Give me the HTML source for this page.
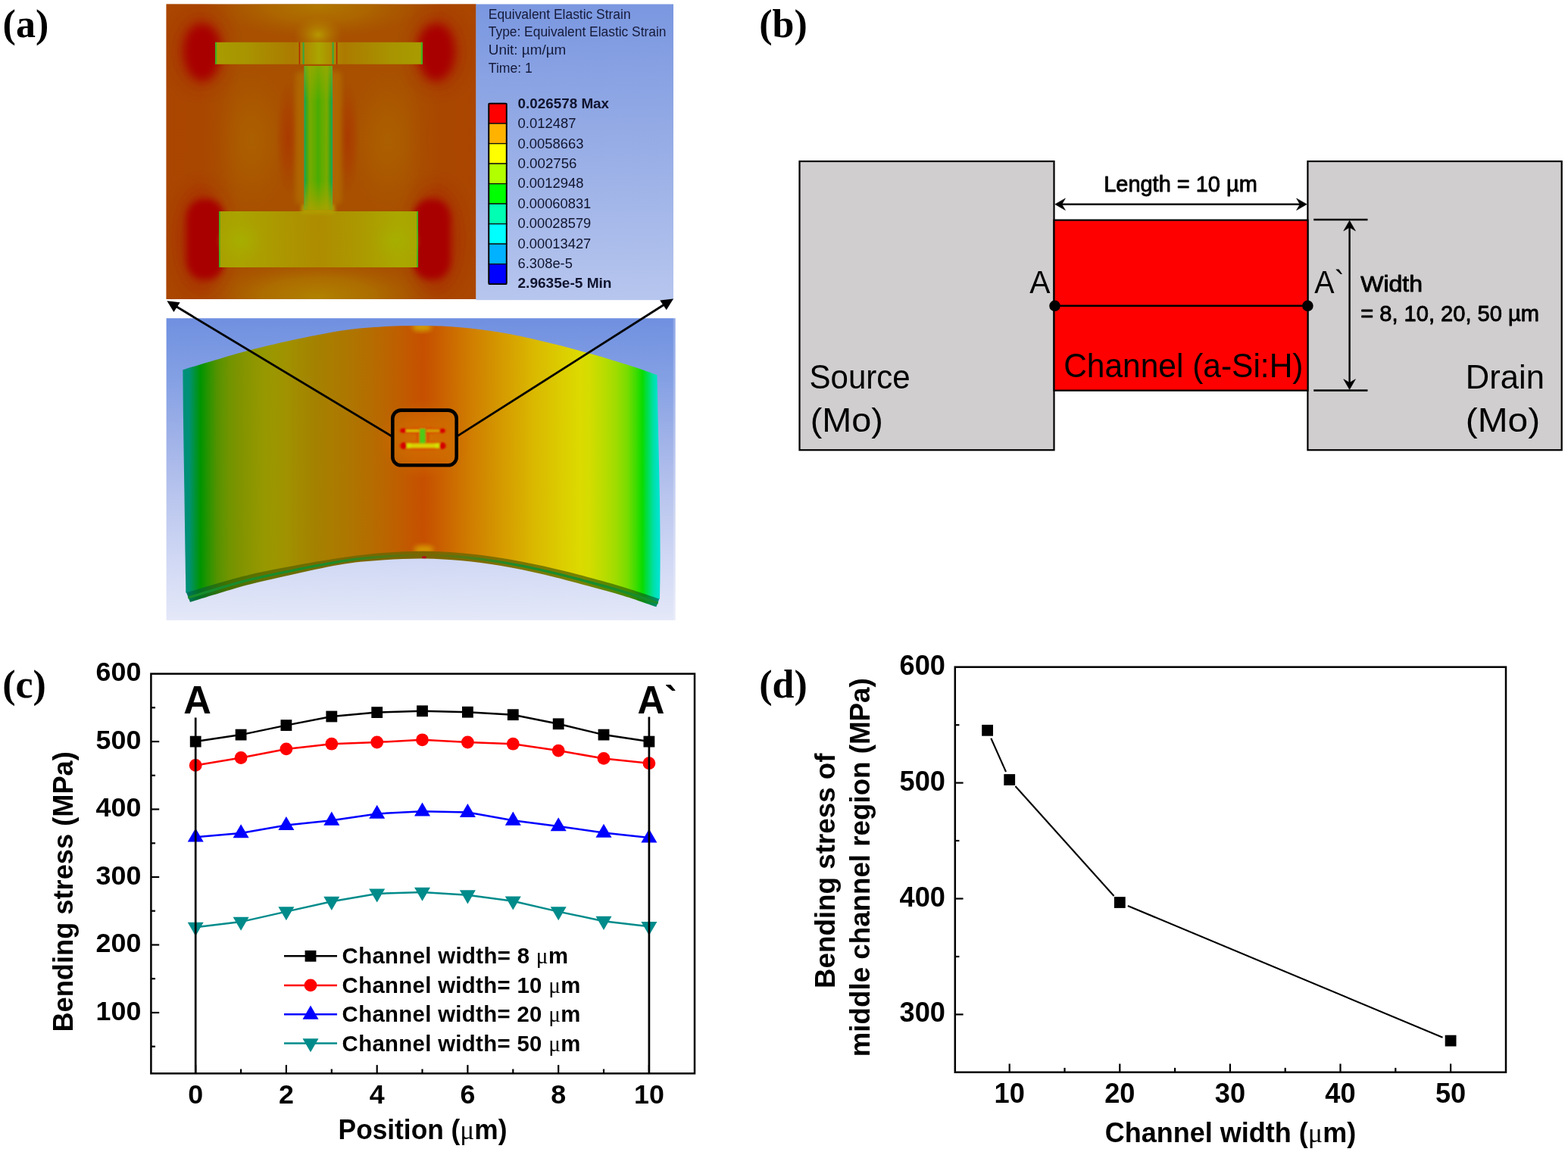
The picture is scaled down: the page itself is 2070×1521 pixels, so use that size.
<!DOCTYPE html>
<html lang="en">
<head>
<meta charset="utf-8">
<title>Figure: bending strain simulation of a-Si:H TFT channel</title>
<style>
html, body { margin: 0; padding: 0; background: #ffffff; }
body { width: 2070px; height: 1521px; overflow: hidden; }
svg { display: block; }
text { white-space: pre; }
</style>
</head>
<body>
<svg width="2070" height="1521" viewBox="0 0 2070 1521" role="img" aria-label="Bending strain simulation of an a-Si:H thin film transistor: (a) equivalent elastic strain maps, (b) channel geometry, (c) bending stress along A-A` for four channel widths, (d) mid-channel bending stress versus channel width">
<rect x="0" y="0" width="2070" height="1521" fill="#ffffff"/>
<!-- panel (a) -->
<defs>
<linearGradient id="aBgTop" x1="0" y1="0" x2="0" y2="1">
 <stop offset="0" stop-color="#7a97e0"/><stop offset="0.5" stop-color="#98aee6"/><stop offset="1" stop-color="#b7c6ee"/>
</linearGradient>
<linearGradient id="aBgBot" x1="0" y1="0" x2="0" y2="1">
 <stop offset="0" stop-color="#7090e0"/><stop offset="0.2" stop-color="#84a0e4"/><stop offset="0.4" stop-color="#a0b2e8"/>
 <stop offset="0.6" stop-color="#bac6ee"/><stop offset="0.8" stop-color="#d0d8f4"/><stop offset="1" stop-color="#e4e8f8"/>
</linearGradient>
<linearGradient id="aPlate" gradientUnits="userSpaceOnUse" x1="244" y1="0" x2="871" y2="0">
 <stop offset="0.0010" stop-color="#009078"/>
 <stop offset="0.0085" stop-color="#009078"/>
 <stop offset="0.0183" stop-color="#009246"/>
 <stop offset="0.0330" stop-color="#009400"/>
 <stop offset="0.0491" stop-color="#289400"/>
 <stop offset="0.0676" stop-color="#549200"/>
 <stop offset="0.0922" stop-color="#709400"/>
 <stop offset="0.1169" stop-color="#809400"/>
 <stop offset="0.1415" stop-color="#8c9600"/>
 <stop offset="0.1662" stop-color="#969800"/>
 <stop offset="0.1907" stop-color="#9c9600"/>
 <stop offset="0.2153" stop-color="#a09200"/>
 <stop offset="0.2400" stop-color="#a28a00"/>
 <stop offset="0.2735" stop-color="#a48200"/>
 <stop offset="0.3104" stop-color="#aa7c00"/>
 <stop offset="0.3474" stop-color="#ae7600"/>
 <stop offset="0.3844" stop-color="#b46e00"/>
 <stop offset="0.4211" stop-color="#ba6600"/>
 <stop offset="0.4577" stop-color="#c05c00"/>
 <stop offset="0.4833" stop-color="#c45400"/>
 <stop offset="0.5040" stop-color="#c65000"/>
 <stop offset="0.5279" stop-color="#c85a00"/>
 <stop offset="0.5646" stop-color="#cc6c00"/>
 <stop offset="0.6029" stop-color="#d07e00"/>
 <stop offset="0.6396" stop-color="#d28e00"/>
 <stop offset="0.6762" stop-color="#d69e00"/>
 <stop offset="0.7129" stop-color="#d8ae00"/>
 <stop offset="0.7384" stop-color="#daba00"/>
 <stop offset="0.7592" stop-color="#dac000"/>
 <stop offset="0.7959" stop-color="#dcce00"/>
 <stop offset="0.8325" stop-color="#dcda00"/>
 <stop offset="0.8517" stop-color="#d4dc00"/>
 <stop offset="0.8820" stop-color="#badc00"/>
 <stop offset="0.9075" stop-color="#a0dc00"/>
 <stop offset="0.9314" stop-color="#78dc00"/>
 <stop offset="0.9506" stop-color="#3cdc00"/>
 <stop offset="0.9633" stop-color="#0adc00"/>
 <stop offset="0.9745" stop-color="#00de50"/>
 <stop offset="0.9872" stop-color="#00e0aa"/>
 <stop offset="0.9952" stop-color="#00e2c8"/>
 <stop offset="1.0000" stop-color="#00e2cd"/>
</linearGradient>
<linearGradient id="aPlateEdge" gradientUnits="userSpaceOnUse" x1="244" y1="0" x2="871" y2="0">
 <stop offset="0.0000" stop-color="#007670"/>
 <stop offset="0.0287" stop-color="#007028"/>
 <stop offset="0.0893" stop-color="#427000"/>
 <stop offset="0.1691" stop-color="#647000"/>
 <stop offset="0.3285" stop-color="#786800"/>
 <stop offset="0.5040" stop-color="#7c6400"/>
 <stop offset="0.6475" stop-color="#806e00"/>
 <stop offset="0.8389" stop-color="#768200"/>
 <stop offset="0.9346" stop-color="#468800"/>
 <stop offset="0.9665" stop-color="#0a8814"/>
 <stop offset="1.0000" stop-color="#008c84"/>
</linearGradient>
<linearGradient id="aStripe" gradientUnits="userSpaceOnUse" x1="244" y1="0" x2="871" y2="0">
 <stop offset="0.0000" stop-color="#178c2c" stop-opacity="1"/>
 <stop offset="0.3126" stop-color="#178c2c" stop-opacity="0.95"/>
 <stop offset="0.4402" stop-color="#178c2c" stop-opacity="0.35"/>
 <stop offset="0.5040" stop-color="#178c2c" stop-opacity="0"/>
 <stop offset="0.5678" stop-color="#178c2c" stop-opacity="0.35"/>
 <stop offset="0.6954" stop-color="#178c2c" stop-opacity="0.95"/>
 <stop offset="1.0000" stop-color="#178c2c" stop-opacity="1"/>
</linearGradient>
<radialGradient id="aYel" cx="0.5" cy="0.5" r="0.5">
 <stop offset="0" stop-color="#b8a000" stop-opacity="0.9"/><stop offset="1" stop-color="#b08000" stop-opacity="0"/>
</radialGradient>
<radialGradient id="aDark" cx="0.5" cy="0.5" r="0.5">
 <stop offset="0" stop-color="#aa3a00" stop-opacity="1"/><stop offset="0.5" stop-color="#aa4000" stop-opacity="0.7"/><stop offset="1" stop-color="#a84c00" stop-opacity="0"/>
</radialGradient>
<radialGradient id="aLight" cx="0.5" cy="0.5" r="0.5">
 <stop offset="0" stop-color="#ac6000" stop-opacity="0.95"/><stop offset="0.5" stop-color="#ac5e00" stop-opacity="0.6"/><stop offset="1" stop-color="#aa5800" stop-opacity="0"/>
</radialGradient>
<radialGradient id="aLightT" cx="0.5" cy="0.5" r="0.5">
 <stop offset="0" stop-color="#b07800" stop-opacity="1"/><stop offset="0.5" stop-color="#ae6c00" stop-opacity="0.75"/><stop offset="1" stop-color="#ac6000" stop-opacity="0"/>
</radialGradient>
<radialGradient id="aLightB" cx="0.5" cy="0.5" r="0.5">
 <stop offset="0" stop-color="#b08200" stop-opacity="1"/><stop offset="0.5" stop-color="#ae7400" stop-opacity="0.8"/><stop offset="1" stop-color="#ac6000" stop-opacity="0"/>
</radialGradient>
<radialGradient id="aBoxGlow" cx="0.5" cy="0.5" r="0.5">
 <stop offset="0" stop-color="#d67400" stop-opacity="0.9"/><stop offset="0.6" stop-color="#d27000" stop-opacity="0.5"/><stop offset="1" stop-color="#cc6800" stop-opacity="0"/>
</radialGradient>
<linearGradient id="aSideL" x1="0" y1="0" x2="1" y2="0">
 <stop offset="0" stop-color="#aa4200" stop-opacity="0.75"/><stop offset="0.5" stop-color="#aa4000" stop-opacity="0.6"/><stop offset="1" stop-color="#aa4800" stop-opacity="0"/>
</linearGradient>
<linearGradient id="aSideR" x1="1" y1="0" x2="0" y2="0">
 <stop offset="0" stop-color="#aa4200" stop-opacity="0.75"/><stop offset="0.5" stop-color="#aa4000" stop-opacity="0.6"/><stop offset="1" stop-color="#aa4800" stop-opacity="0"/>
</linearGradient>
<linearGradient id="aBarTop" gradientUnits="userSpaceOnUse" x1="284" y1="0" x2="558" y2="0">
 <stop offset="0" stop-color="#a89c00"/><stop offset="0.15" stop-color="#a89400"/><stop offset="0.38" stop-color="#ac7a00"/>
 <stop offset="0.42" stop-color="#ae8400"/><stop offset="0.5" stop-color="#aaa600"/><stop offset="0.58" stop-color="#ae8400"/>
 <stop offset="0.62" stop-color="#ac7a00"/><stop offset="0.85" stop-color="#a89400"/><stop offset="1" stop-color="#a89c00"/>
</linearGradient>
<linearGradient id="aBarBot" gradientUnits="userSpaceOnUse" x1="289" y1="0" x2="552" y2="0">
 <stop offset="0" stop-color="#a8a000"/><stop offset="0.1" stop-color="#aaa400"/><stop offset="0.3" stop-color="#ac9800"/><stop offset="0.5" stop-color="#ae8c00"/>
 <stop offset="0.7" stop-color="#ac9800"/><stop offset="0.9" stop-color="#aaa800"/><stop offset="1" stop-color="#a8a400"/>
</linearGradient>
<linearGradient id="aChan" gradientUnits="userSpaceOnUse" x1="401.5" y1="0" x2="439" y2="0">
 <stop offset="0" stop-color="#10a870"/><stop offset="0.07" stop-color="#30a820"/><stop offset="0.2" stop-color="#78aa00"/>
 <stop offset="0.4" stop-color="#5cac00"/><stop offset="0.5" stop-color="#48ac04"/><stop offset="0.6" stop-color="#5cac00"/>
 <stop offset="0.8" stop-color="#78aa00"/><stop offset="0.93" stop-color="#30a820"/><stop offset="1" stop-color="#10a870"/>
</linearGradient>
<linearGradient id="aChanV" x1="0" y1="0" x2="0" y2="1">
 <stop offset="0" stop-color="#a4a800" stop-opacity="0.6"/><stop offset="0.25" stop-color="#a4a800" stop-opacity="0"/>
 <stop offset="0.8" stop-color="#a4a800" stop-opacity="0"/><stop offset="1" stop-color="#b0a000" stop-opacity="0.8"/>
</linearGradient>
<radialGradient id="aBarHi" cx="0.5" cy="0.5" r="0.5">
 <stop offset="0" stop-color="#a6b000" stop-opacity="0.9"/><stop offset="1" stop-color="#a8a800" stop-opacity="0"/>
</radialGradient>
<filter id="aBlur2" x="-20%" y="-60%" width="140%" height="220%"><feGaussianBlur stdDeviation="2"/></filter>
<filter id="aBlur1" x="-10%" y="-10%" width="120%" height="120%"><feGaussianBlur stdDeviation="0.8"/></filter>
<filter id="aBlur3" x="-30%" y="-30%" width="160%" height="160%"><feGaussianBlur stdDeviation="3"/></filter>
<filter id="aBlur5" x="-40%" y="-40%" width="180%" height="180%"><feGaussianBlur stdDeviation="4.5"/></filter>
<filter id="aBlur6" x="-40%" y="-40%" width="180%" height="180%"><feGaussianBlur stdDeviation="6"/></filter>
<filter id="aBlur10" x="-50%" y="-50%" width="200%" height="200%"><feGaussianBlur stdDeviation="10"/></filter>
<clipPath id="aClipTop"><rect x="219.6" y="5.5" width="409" height="389.4"/></clipPath>
<clipPath id="aClipBot"><rect x="219.6" y="420.2" width="672" height="398.7"/></clipPath>
<clipPath id="aClipPlate"><path d="M241.4,488.3 C248.6,486.1 269.7,479.7 284.6,475.3 C299.5,470.9 312.9,466.6 331.0,462.0 C349.1,457.4 372.3,451.9 393.0,447.5 C413.7,443.1 436.2,438.6 455.0,435.9 C473.8,433.2 489.0,432.2 506.0,431.2 C523.0,430.2 540.0,429.8 557.0,430.0 C574.0,430.2 590.8,430.7 608.0,432.2 C625.2,433.7 641.7,435.7 660.0,438.8 C678.3,441.9 698.7,446.5 718.0,451.0 C737.3,455.5 756.7,460.6 776.0,466.0 C795.3,471.4 818.8,478.6 834.0,483.4 C849.2,488.2 861.9,493.1 867.5,495.0 C867.7,505.0 868.2,529.2 868.7,555.0 C869.2,580.8 870.3,620.0 870.8,650.0 C871.3,680.0 871.6,711.5 871.6,735.0 C871.6,758.5 871.1,781.6 871.0,790.9 C863.2,788.3 839.8,780.3 824.0,775.5 C808.2,770.7 793.7,766.6 776.0,761.9 C758.3,757.2 737.3,751.8 718.0,747.5 C698.7,743.2 678.0,739.3 660.0,736.4 C642.0,733.5 626.7,731.7 610.0,730.2 C593.3,728.8 577.0,727.8 560.0,727.7 C543.0,727.6 525.5,728.4 508.0,729.8 C490.5,731.1 474.2,733.1 455.0,735.8 C435.8,738.5 413.7,742.2 393.0,746.0 C372.3,749.8 348.5,754.4 331.0,758.4 C313.5,762.4 302.3,765.9 288.0,770.0 C273.7,774.1 252.5,780.7 245.4,782.8 C245.3,774.8 244.9,757.1 244.6,735.0 C244.3,712.9 243.8,680.0 243.4,650.0 C243.0,620.0 242.3,582.0 242.0,555.0 C241.7,528.0 241.5,499.4 241.4,488.3 Z"/></clipPath>
</defs>
<g clip-path="url(#aClipTop)">
<rect x="219" y="5" width="410" height="391" fill="#a85000"/>
<ellipse cx="332" cy="185" rx="52" ry="95" fill="url(#aLight)"/>
<ellipse cx="512" cy="185" rx="52" ry="95" fill="url(#aLight)"/>
<ellipse cx="420" cy="8" rx="135" ry="42" fill="url(#aLightT)"/>
<ellipse cx="420" cy="392" rx="150" ry="50" fill="url(#aLightB)"/>
<rect x="219" y="5" width="95" height="391" fill="url(#aSideL)"/>
<rect x="534" y="5" width="95" height="391" fill="url(#aSideR)"/>
<ellipse cx="380" cy="182" rx="17" ry="82" fill="url(#aDark)"/>
<ellipse cx="459" cy="182" rx="17" ry="82" fill="url(#aDark)"/>
<rect x="390" y="94" width="61" height="176" rx="6" fill="#b27000" opacity="0.7" filter="url(#aBlur3)"/>
<ellipse cx="420" cy="46" rx="32" ry="24" fill="url(#aYel)"/>
<ellipse cx="420" cy="284" rx="30" ry="16" fill="url(#aYel)"/>
<g filter="url(#aBlur10)" opacity="0.55">
<ellipse cx="266" cy="68" rx="34" ry="48" fill="#a82000"/>
<ellipse cx="577" cy="68" rx="34" ry="48" fill="#a82000"/>
<ellipse cx="266" cy="316" rx="34" ry="70" fill="#a82000"/>
<ellipse cx="575" cy="316" rx="34" ry="70" fill="#a82000"/>
</g>
<g filter="url(#aBlur6)">
<path d="M266,32 C282,32 292,48 291,68 C290,90 280,106 268,106 C254,106 243,90 243,68 C243,48 252,32 266,32 Z" fill="#a80000"/>
<path d="M577,32 C561,32 551,48 552,68 C553,90 563,106 575,106 C589,106 600,90 600,68 C600,48 591,32 577,32 Z" fill="#a80000"/>
</g>
<g filter="url(#aBlur5)">
<rect x="246" y="263" width="50" height="106" rx="22" ry="26" fill="#a80000"/>
<rect x="545" y="263" width="50" height="106" rx="22" ry="26" fill="#a80000"/>
</g>
<rect x="284" y="55.8" width="274" height="29" fill="url(#aBarTop)"/>
<rect x="284" y="55.8" width="2.2" height="29" fill="#40b020"/>
<rect x="555.8" y="55.8" width="2.2" height="29" fill="#40b020"/>
<rect x="394.6" y="55.8" width="1.6" height="29" fill="#b02800"/>
<rect x="443.8" y="55.8" width="1.6" height="29" fill="#b02800"/>
<rect x="399.6" y="55.8" width="2" height="29" fill="#30a840"/>
<rect x="438.6" y="55.8" width="2" height="29" fill="#30a840"/>
<rect x="289" y="279" width="263" height="74" fill="url(#aBarBot)"/>
<rect x="289" y="279" width="1.8" height="74" fill="#40b020"/>
<rect x="550.2" y="279" width="1.8" height="74" fill="#40b020"/>
<ellipse cx="318" cy="318" rx="34" ry="30" fill="url(#aBarHi)"/>
<ellipse cx="523" cy="318" rx="34" ry="30" fill="url(#aBarHi)"/>
<rect x="398" y="270" width="44" height="12" fill="#b0a000" opacity="0.9" filter="url(#aBlur2)"/>
<rect x="401.5" y="87" width="37.5" height="189.5" fill="url(#aChan)"/>
<rect x="401.5" y="87" width="37.5" height="189.5" fill="url(#aChanV)"/>
</g>
<rect x="628.3" y="5.5" width="260.7" height="390.7" fill="url(#aBgTop)"/>
<g font-family="'Liberation Sans', 'DejaVu Sans', sans-serif" font-size="18" fill="#151a3a">
<text x="644.8" y="24.9" textLength="187.8" lengthAdjust="spacingAndGlyphs">Equivalent Elastic Strain</text>
<text x="644.8" y="48.3" textLength="234.7" lengthAdjust="spacingAndGlyphs">Type: Equivalent Elastic Strain</text>
<text x="644.8" y="71.8" textLength="102.5" lengthAdjust="spacingAndGlyphs">Unit: µm/µm</text>
<text x="644.8" y="95.5" textLength="58" lengthAdjust="spacingAndGlyphs">Time: 1</text>
</g>
<rect x="645.3" y="136.60" width="23.4" height="26.5" fill="#ff0000" stroke="#101010" stroke-width="1.3"/>
<rect x="645.3" y="163.10" width="23.4" height="26.5" fill="#ffb200" stroke="#101010" stroke-width="1.3"/>
<rect x="645.3" y="189.60" width="23.4" height="26.5" fill="#ffff00" stroke="#101010" stroke-width="1.3"/>
<rect x="645.3" y="216.10" width="23.4" height="26.5" fill="#b2ff00" stroke="#101010" stroke-width="1.3"/>
<rect x="645.3" y="242.60" width="23.4" height="26.5" fill="#00ff00" stroke="#101010" stroke-width="1.3"/>
<rect x="645.3" y="269.10" width="23.4" height="26.5" fill="#00ffb2" stroke="#101010" stroke-width="1.3"/>
<rect x="645.3" y="295.60" width="23.4" height="26.5" fill="#00ffff" stroke="#101010" stroke-width="1.3"/>
<rect x="645.3" y="322.10" width="23.4" height="26.5" fill="#00b2ff" stroke="#101010" stroke-width="1.3"/>
<rect x="645.3" y="348.60" width="23.4" height="26.5" fill="#0000ff" stroke="#101010" stroke-width="1.3"/>
<rect x="645.3" y="136.6" width="23.4" height="238.50" fill="none" stroke="#000" stroke-width="1.8" rx="1.5"/>
<g font-family="'Liberation Sans', 'DejaVu Sans', sans-serif" font-size="18" fill="#10142e">
<text x="683.5" y="142.8" textLength="120.6" lengthAdjust="spacingAndGlyphs" font-weight="bold">0.026578 Max</text>
<text x="683.5" y="169.2" textLength="77.0" lengthAdjust="spacingAndGlyphs">0.012487</text>
<text x="683.5" y="195.6" textLength="87.0" lengthAdjust="spacingAndGlyphs">0.0058663</text>
<text x="683.5" y="222.0" textLength="78.0" lengthAdjust="spacingAndGlyphs">0.002756</text>
<text x="683.5" y="248.4" textLength="87.0" lengthAdjust="spacingAndGlyphs">0.0012948</text>
<text x="683.5" y="274.8" textLength="96.8" lengthAdjust="spacingAndGlyphs">0.00060831</text>
<text x="683.5" y="301.2" textLength="96.8" lengthAdjust="spacingAndGlyphs">0.00028579</text>
<text x="683.5" y="327.6" textLength="96.8" lengthAdjust="spacingAndGlyphs">0.00013427</text>
<text x="683.5" y="354.0" textLength="72.4" lengthAdjust="spacingAndGlyphs">6.308e-5</text>
<text x="683.5" y="380.4" textLength="124.0" lengthAdjust="spacingAndGlyphs" font-weight="bold">2.9635e-5 Min</text>
</g>
<rect x="219.6" y="420.2" width="672" height="398.7" fill="url(#aBgBot)"/>
<rect x="888.8" y="420.2" width="2.8" height="398.7" fill="#ffffff" opacity="0.22"/>
<g clip-path="url(#aClipBot)">
<path d="M245.4,780.8 L251,795 C257.5,793.0 276.7,787.0 290.0,783.0 C303.3,779.0 313.8,775.5 331.0,771.2 C348.2,766.9 372.3,761.5 393.0,757.0 C413.7,752.5 435.8,747.5 455.0,744.5 C474.2,741.5 490.5,740.5 508.0,739.3 C525.5,738.1 543.0,737.3 560.0,737.5 C577.0,737.7 593.3,738.8 610.0,740.3 C626.7,741.8 642.0,743.8 660.0,746.8 C678.0,749.8 698.7,754.0 718.0,758.5 C737.3,763.0 758.3,768.8 776.0,773.5 C793.7,778.2 808.9,782.4 824.0,787.0 C839.1,791.6 859.3,798.9 866.4,801.3 L871,788.9 C863.2,786.3 839.8,778.3 824.0,773.5 C808.2,768.7 793.7,764.6 776.0,759.9 C758.3,755.2 737.3,749.8 718.0,745.5 C698.7,741.2 678.0,737.3 660.0,734.4 C642.0,731.5 626.7,729.7 610.0,728.2 C593.3,726.8 577.0,725.8 560.0,725.7 C543.0,725.6 525.5,726.4 508.0,727.8 C490.5,729.1 474.2,731.1 455.0,733.8 C435.8,736.5 413.7,740.2 393.0,744.0 C372.3,747.8 348.5,752.4 331.0,756.4 C313.5,760.4 302.3,763.9 288.0,768.0 C273.7,772.1 252.5,778.7 245.4,780.8 Z" fill="url(#aPlateEdge)"/>
<path d="M248.2,789.2 C255.0,787.1 275.2,780.8 289.0,776.8 C302.8,772.8 313.7,769.3 331.0,765.1 C348.3,760.9 372.3,755.9 393.0,751.8 C413.7,747.7 435.8,743.3 455.0,740.4 C474.2,737.6 490.5,736.1 508.0,734.8 C525.5,733.6 543.0,732.8 560.0,732.9 C577.0,733.0 593.3,734.0 610.0,735.5 C626.7,737.0 642.0,738.9 660.0,741.9 C678.0,744.9 698.7,748.9 718.0,753.3 C737.3,757.6 758.3,763.3 776.0,768.0 C793.7,772.7 808.5,776.8 824.0,781.5 C839.5,786.3 861.2,793.9 868.7,796.4" fill="none" stroke="url(#aStripe)" stroke-width="3.4"/>
<ellipse cx="560" cy="735.8" rx="3" ry="1.5" fill="#b40020"/>
<path d="M241.4,488.3 C248.6,486.1 269.7,479.7 284.6,475.3 C299.5,470.9 312.9,466.6 331.0,462.0 C349.1,457.4 372.3,451.9 393.0,447.5 C413.7,443.1 436.2,438.6 455.0,435.9 C473.8,433.2 489.0,432.2 506.0,431.2 C523.0,430.2 540.0,429.8 557.0,430.0 C574.0,430.2 590.8,430.7 608.0,432.2 C625.2,433.7 641.7,435.7 660.0,438.8 C678.3,441.9 698.7,446.5 718.0,451.0 C737.3,455.5 756.7,460.6 776.0,466.0 C795.3,471.4 818.8,478.6 834.0,483.4 C849.2,488.2 861.9,493.1 867.5,495.0 C867.7,505.0 868.2,529.2 868.7,555.0 C869.2,580.8 870.3,620.0 870.8,650.0 C871.3,680.0 871.6,711.5 871.6,735.0 C871.6,758.5 871.1,781.6 871.0,790.9 C863.2,788.3 839.8,780.3 824.0,775.5 C808.2,770.7 793.7,766.6 776.0,761.9 C758.3,757.2 737.3,751.8 718.0,747.5 C698.7,743.2 678.0,739.3 660.0,736.4 C642.0,733.5 626.7,731.7 610.0,730.2 C593.3,728.8 577.0,727.8 560.0,727.7 C543.0,727.6 525.5,728.4 508.0,729.8 C490.5,731.1 474.2,733.1 455.0,735.8 C435.8,738.5 413.7,742.2 393.0,746.0 C372.3,749.8 348.5,754.4 331.0,758.4 C313.5,762.4 302.3,765.9 288.0,770.0 C273.7,774.1 252.5,780.7 245.4,782.8 C245.3,774.8 244.9,757.1 244.6,735.0 C244.3,712.9 243.8,680.0 243.4,650.0 C243.0,620.0 242.3,582.0 242.0,555.0 C241.7,528.0 241.5,499.4 241.4,488.3 Z" fill="url(#aPlate)"/>
<g clip-path="url(#aClipPlate)">
<ellipse cx="557" cy="432" rx="13" ry="5.5" fill="#d8c800" opacity="0.65" filter="url(#aBlur3)"/>
<ellipse cx="559.5" cy="725.5" rx="13" ry="5.5" fill="#e0c000" opacity="0.65" filter="url(#aBlur3)"/>
<ellipse cx="560" cy="580" rx="62" ry="52" fill="url(#aBoxGlow)"/>
<g filter="url(#aBlur1)">
<ellipse cx="558" cy="568.6" rx="31" ry="4.6" fill="#e03800" opacity="0.45"/>
<ellipse cx="558" cy="588.6" rx="32" ry="6" fill="#e03800" opacity="0.45"/>
<ellipse cx="551.2" cy="577.5" rx="1.9" ry="7" fill="#d84800" opacity="0.7"/>
<ellipse cx="564.8" cy="577.5" rx="2.2" ry="7" fill="#d84800" opacity="0.7"/>
<rect x="535.5" y="567.4" width="18" height="2.6" fill="#d6d400"/>
<rect x="563" y="567.4" width="18" height="2.6" fill="#d0c000" opacity="0.85"/>
<rect x="536.5" y="585.4" width="44" height="6" fill="#d8d000"/>
<rect x="536.5" y="585.4" width="6" height="6" fill="#d0e400"/>
<rect x="574.5" y="585.4" width="6" height="6" fill="#d0e400"/>
<rect x="554" y="566" width="7.6" height="19.4" fill="#4ecc18"/>
<ellipse cx="532.2" cy="568.6" rx="3.9" ry="3" fill="#d80400"/>
<ellipse cx="584" cy="568.8" rx="3.9" ry="3" fill="#d80400"/>
<ellipse cx="532.8" cy="588.6" rx="4.3" ry="4.5" fill="#d40000"/>
<ellipse cx="584.2" cy="588.6" rx="4.3" ry="4.5" fill="#d40000"/>
</g>
</g>
</g>
<rect x="518.3" y="541.6" width="84.4" height="72.7" rx="11" ry="11" fill="none" stroke="#000" stroke-width="4.6"/>
<g stroke="#000" stroke-width="2.8" fill="#000">
<line x1="517.5" y1="576.2" x2="232" y2="404.3"/>
<path d="M220.4,397.2 L237.7,399.2 L229.4,411.9 Z" stroke="none"/>
<line x1="603.6" y1="575.9" x2="877" y2="402"/>
<path d="M889,394.6 L871.2,396.6 L879.8,409.3 Z" stroke="none"/>
</g>
<!-- panel (b) -->
<g>
<rect x="1055.5" y="213" width="336" height="381.2" fill="#d0cece" stroke="#000" stroke-width="2.2"/>
<rect x="1726.4" y="213" width="335.3" height="381.2" fill="#d0cece" stroke="#000" stroke-width="2.2"/>
<rect x="1391.5" y="290.6" width="335" height="225" fill="#ff0000" stroke="#000" stroke-width="2.2"/>
<g stroke="#000" stroke-width="2.4" fill="none">
<line x1="1400" y1="269.7" x2="1718" y2="269.7"/>
<line x1="1734.2" y1="290" x2="1805.5" y2="290"/>
<line x1="1734.2" y1="515.5" x2="1805.5" y2="515.5"/>
<line x1="1781.6" y1="299" x2="1781.6" y2="506"/>
<line x1="1392" y1="403.7" x2="1726" y2="403.7" stroke-width="2.4"/>
</g>
<path d="M1392.8,269.7 L1406.4,261.9 L1401.8,269.7 L1406.4,277.5 Z" fill="#000" stroke="#000" stroke-width="0.6" stroke-linejoin="miter"/>
<path d="M1725.2,269.7 L1711.6,277.5 L1716.2,269.7 L1711.6,261.9 Z" fill="#000" stroke="#000" stroke-width="0.6" stroke-linejoin="miter"/>
<path d="M1781.6,291.2 L1789.4,304.8 L1781.6,300.2 L1773.8,304.8 Z" fill="#000" stroke="#000" stroke-width="0.6" stroke-linejoin="miter"/>
<path d="M1781.6,514.3 L1773.8,500.7 L1781.6,505.3 L1789.4,500.7 Z" fill="#000" stroke="#000" stroke-width="0.6" stroke-linejoin="miter"/>
<circle cx="1392.5" cy="403.8" r="7.3" fill="#000"/>
<circle cx="1726.4" cy="403.8" r="7.3" fill="#000"/>
<g font-family="'Liberation Sans', 'DejaVu Sans', sans-serif" fill="#000">
<text x="1457.2" y="252.6" font-size="29" textLength="202.6" lengthAdjust="spacingAndGlyphs" stroke="#000" stroke-width="0.85" stroke-linejoin="round">Length = 10 µm</text>
<text x="1359.2" y="386.7" font-size="42.5" textLength="27.2" lengthAdjust="spacingAndGlyphs">A</text>
<text x="1735.2" y="386.7" font-size="42.5" textLength="39.4" lengthAdjust="spacingAndGlyphs">A`</text>
<text x="1404.2" y="498" font-size="43.5" textLength="316.3" lengthAdjust="spacingAndGlyphs">Channel (a-Si:H)</text>
<text x="1068.5" y="512.8" font-size="43.5" textLength="133.1" lengthAdjust="spacingAndGlyphs">Source</text>
<text x="1069.8" y="570" font-size="43.5" textLength="96.1" lengthAdjust="spacingAndGlyphs">(Mo)</text>
<text x="1934.8" y="513.2" font-size="43.5" textLength="104.1" lengthAdjust="spacingAndGlyphs">Drain</text>
<text x="1934.8" y="570.4" font-size="43.5" textLength="98.4" lengthAdjust="spacingAndGlyphs">(Mo)</text>
<text x="1796.2" y="384.5" font-size="29" textLength="81.8" lengthAdjust="spacingAndGlyphs" stroke="#000" stroke-width="0.85" stroke-linejoin="round">Width</text>
<text x="1796.2" y="423.7" font-size="29" textLength="235.8" lengthAdjust="spacingAndGlyphs" stroke="#000" stroke-width="0.85" stroke-linejoin="round">= 8, 10, 20, 50 µm</text>
</g>
</g>
<!-- panel (c) -->
<g>
<rect x="199.4" y="889.6" width="717.6" height="527.7" fill="none" stroke="#000" stroke-width="2.5"/>
<g stroke="#000" stroke-width="2.2">
<line x1="199.4" y1="1337.0" x2="210.2" y2="1337.0"/>
<line x1="199.4" y1="1247.5" x2="210.2" y2="1247.5"/>
<line x1="199.4" y1="1158.0" x2="210.2" y2="1158.0"/>
<line x1="199.4" y1="1068.5" x2="210.2" y2="1068.5"/>
<line x1="199.4" y1="979.1" x2="210.2" y2="979.1"/>
<line x1="199.4" y1="1381.7" x2="205.0" y2="1381.7"/>
<line x1="199.4" y1="1292.2" x2="205.0" y2="1292.2"/>
<line x1="199.4" y1="1202.7" x2="205.0" y2="1202.7"/>
<line x1="199.4" y1="1113.3" x2="205.0" y2="1113.3"/>
<line x1="199.4" y1="1023.8" x2="205.0" y2="1023.8"/>
<line x1="199.4" y1="934.3" x2="205.0" y2="934.3"/>
<line x1="258.2" y1="1417.3" x2="258.2" y2="1406.1"/>
<line x1="377.9" y1="1417.3" x2="377.9" y2="1406.1"/>
<line x1="497.7" y1="1417.3" x2="497.7" y2="1406.1"/>
<line x1="617.4" y1="1417.3" x2="617.4" y2="1406.1"/>
<line x1="737.2" y1="1417.3" x2="737.2" y2="1406.1"/>
<line x1="856.9" y1="1417.3" x2="856.9" y2="1406.1"/>
<line x1="318.1" y1="1417.3" x2="318.1" y2="1411.5"/>
<line x1="437.8" y1="1417.3" x2="437.8" y2="1411.5"/>
<line x1="557.5" y1="1417.3" x2="557.5" y2="1411.5"/>
<line x1="677.3" y1="1417.3" x2="677.3" y2="1411.5"/>
<line x1="797.0" y1="1417.3" x2="797.0" y2="1411.5"/>
</g>
<g font-family="'Liberation Sans', 'DejaVu Sans', sans-serif" font-weight="bold" font-size="35.8" fill="#000">
<text x="186.3" y="1346.8" text-anchor="end">100</text>
<text x="186.3" y="1257.3" text-anchor="end">200</text>
<text x="186.3" y="1167.8" text-anchor="end">300</text>
<text x="186.3" y="1078.3" text-anchor="end">400</text>
<text x="186.3" y="988.9" text-anchor="end">500</text>
<text x="186.3" y="899.4" text-anchor="end">600</text>
<text x="258.2" y="1457.3" text-anchor="middle">0</text>
<text x="377.9" y="1457.3" text-anchor="middle">2</text>
<text x="497.7" y="1457.3" text-anchor="middle">4</text>
<text x="617.4" y="1457.3" text-anchor="middle">6</text>
<text x="737.2" y="1457.3" text-anchor="middle">8</text>
<text x="856.9" y="1457.3" text-anchor="middle">10</text>
</g>
<text x="446.6" y="1504.3" textLength="222.8" lengthAdjust="spacingAndGlyphs" font-family="'Liberation Sans', 'DejaVu Sans', sans-serif" font-weight="bold" font-size="36" fill="#000">Position (<tspan font-family="'Liberation Serif', 'DejaVu Serif', serif" font-weight="normal">μ</tspan>m)</text>
<text transform="translate(95.5,1362.6) rotate(-90)" textLength="370.4" lengthAdjust="spacingAndGlyphs" font-family="'Liberation Sans', 'DejaVu Sans', sans-serif" font-weight="bold" font-size="36" fill="#000">Bending stress (MPa)</text>
<text x="242.2" y="941.5" textLength="36.6" lengthAdjust="spacingAndGlyphs" font-family="'Liberation Sans', 'DejaVu Sans', sans-serif" font-weight="bold" font-size="52" fill="#000">A</text>
<text x="841.6" y="941.5" textLength="52.4" lengthAdjust="spacingAndGlyphs" font-family="'Liberation Sans', 'DejaVu Sans', sans-serif" font-weight="bold" font-size="52" fill="#000">A`</text>
<polyline points="258.2,979.1 318.1,970.1 377.9,957.6 437.8,946.0 497.7,940.6 557.5,938.8 617.4,940.2 677.3,943.7 737.2,955.8 797.0,970.1 856.9,979.1" fill="none" stroke="#000000" stroke-width="2.5"/>
<rect x="250.8" y="971.7" width="14.8" height="14.8" fill="#000000"/>
<rect x="310.7" y="962.7" width="14.8" height="14.8" fill="#000000"/>
<rect x="370.5" y="950.2" width="14.8" height="14.8" fill="#000000"/>
<rect x="430.4" y="938.6" width="14.8" height="14.8" fill="#000000"/>
<rect x="490.3" y="933.2" width="14.8" height="14.8" fill="#000000"/>
<rect x="550.1" y="931.4" width="14.8" height="14.8" fill="#000000"/>
<rect x="610.0" y="932.8" width="14.8" height="14.8" fill="#000000"/>
<rect x="669.9" y="936.3" width="14.8" height="14.8" fill="#000000"/>
<rect x="729.8" y="948.4" width="14.8" height="14.8" fill="#000000"/>
<rect x="789.6" y="962.7" width="14.8" height="14.8" fill="#000000"/>
<rect x="849.5" y="971.7" width="14.8" height="14.8" fill="#000000"/>
<polyline points="258.2,1010.4 318.1,1000.5 377.9,988.9 437.8,982.2 497.7,980.0 557.5,976.8 617.4,980.0 677.3,982.2 737.2,991.1 797.0,1001.4 856.9,1007.7" fill="none" stroke="#ff0000" stroke-width="2.5"/>
<circle cx="258.2" cy="1010.4" r="8.4" fill="#ff0000"/>
<circle cx="318.1" cy="1000.5" r="8.4" fill="#ff0000"/>
<circle cx="377.9" cy="988.9" r="8.4" fill="#ff0000"/>
<circle cx="437.8" cy="982.2" r="8.4" fill="#ff0000"/>
<circle cx="497.7" cy="980.0" r="8.4" fill="#ff0000"/>
<circle cx="557.5" cy="976.8" r="8.4" fill="#ff0000"/>
<circle cx="617.4" cy="980.0" r="8.4" fill="#ff0000"/>
<circle cx="677.3" cy="982.2" r="8.4" fill="#ff0000"/>
<circle cx="737.2" cy="991.1" r="8.4" fill="#ff0000"/>
<circle cx="797.0" cy="1001.4" r="8.4" fill="#ff0000"/>
<circle cx="856.9" cy="1007.7" r="8.4" fill="#ff0000"/>
<polyline points="258.2,1105.2 318.1,1099.9 377.9,1089.6 437.8,1083.3 497.7,1074.4 557.5,1071.2 617.4,1072.6 677.3,1083.3 737.2,1090.9 797.0,1099.4 856.9,1106.1" fill="none" stroke="#0000ff" stroke-width="2.5"/>
<path d="M258.2,1093.5 L268.7,1111.6 L247.7,1111.6 Z" fill="#0000ff"/>
<path d="M318.1,1088.2 L328.6,1106.3 L307.6,1106.3 Z" fill="#0000ff"/>
<path d="M377.9,1077.9 L388.4,1096.0 L367.4,1096.0 Z" fill="#0000ff"/>
<path d="M437.8,1071.6 L448.3,1089.7 L427.3,1089.7 Z" fill="#0000ff"/>
<path d="M497.7,1062.7 L508.2,1080.8 L487.2,1080.8 Z" fill="#0000ff"/>
<path d="M557.5,1059.5 L568.0,1077.6 L547.0,1077.6 Z" fill="#0000ff"/>
<path d="M617.4,1060.9 L627.9,1079.0 L606.9,1079.0 Z" fill="#0000ff"/>
<path d="M677.3,1071.6 L687.8,1089.7 L666.8,1089.7 Z" fill="#0000ff"/>
<path d="M737.2,1079.2 L747.7,1097.3 L726.7,1097.3 Z" fill="#0000ff"/>
<path d="M797.0,1087.7 L807.5,1105.8 L786.5,1105.8 Z" fill="#0000ff"/>
<path d="M856.9,1094.4 L867.4,1112.5 L846.4,1112.5 Z" fill="#0000ff"/>
<polyline points="258.2,1224.2 318.1,1217.1 377.9,1203.6 437.8,1190.2 497.7,1179.9 557.5,1178.1 617.4,1181.7 677.3,1189.8 737.2,1203.6 797.0,1216.2 856.9,1223.3" fill="none" stroke="#008b8b" stroke-width="2.5"/>
<path d="M258.2,1235.9 L268.7,1217.8 L247.7,1217.8 Z" fill="#008b8b"/>
<path d="M318.1,1228.8 L328.6,1210.7 L307.6,1210.7 Z" fill="#008b8b"/>
<path d="M377.9,1215.3 L388.4,1197.2 L367.4,1197.2 Z" fill="#008b8b"/>
<path d="M437.8,1201.9 L448.3,1183.8 L427.3,1183.8 Z" fill="#008b8b"/>
<path d="M497.7,1191.6 L508.2,1173.5 L487.2,1173.5 Z" fill="#008b8b"/>
<path d="M557.5,1189.8 L568.0,1171.7 L547.0,1171.7 Z" fill="#008b8b"/>
<path d="M617.4,1193.4 L627.9,1175.3 L606.9,1175.3 Z" fill="#008b8b"/>
<path d="M677.3,1201.5 L687.8,1183.4 L666.8,1183.4 Z" fill="#008b8b"/>
<path d="M737.2,1215.3 L747.7,1197.2 L726.7,1197.2 Z" fill="#008b8b"/>
<path d="M797.0,1227.9 L807.5,1209.8 L786.5,1209.8 Z" fill="#008b8b"/>
<path d="M856.9,1235.0 L867.4,1216.9 L846.4,1216.9 Z" fill="#008b8b"/>
<line x1="258.2" y1="947.5" x2="258.2" y2="1417.3" stroke="#000" stroke-width="2.7"/>
<line x1="856.9" y1="946.5" x2="856.9" y2="1417.3" stroke="#000" stroke-width="2.7"/>
<line x1="375" y1="1262.3" x2="445" y2="1262.3" stroke="#000000" stroke-width="2.5"/>
<rect x="402.6" y="1254.9" width="14.8" height="14.8" fill="#000000"/>
<text x="451.6" y="1272.4" textLength="298.4" lengthAdjust="spacing" font-family="'Liberation Sans', 'DejaVu Sans', sans-serif" font-weight="bold" font-size="29.3" fill="#000">Channel width= 8 <tspan font-family="'Liberation Serif', 'DejaVu Serif', serif" font-weight="normal">μ</tspan>m</text>
<line x1="375" y1="1300.9" x2="445" y2="1300.9" stroke="#ff0000" stroke-width="2.5"/>
<circle cx="410.0" cy="1300.9" r="8.4" fill="#ff0000"/>
<text x="451.6" y="1311.0" textLength="314.8" lengthAdjust="spacing" font-family="'Liberation Sans', 'DejaVu Sans', sans-serif" font-weight="bold" font-size="29.3" fill="#000">Channel width= 10 <tspan font-family="'Liberation Serif', 'DejaVu Serif', serif" font-weight="normal">μ</tspan>m</text>
<line x1="375" y1="1339.3" x2="445" y2="1339.3" stroke="#0000ff" stroke-width="2.5"/>
<path d="M410.0,1327.6 L420.5,1345.7 L399.5,1345.7 Z" fill="#0000ff"/>
<text x="451.6" y="1349.4" textLength="314.8" lengthAdjust="spacing" font-family="'Liberation Sans', 'DejaVu Sans', sans-serif" font-weight="bold" font-size="29.3" fill="#000">Channel width= 20 <tspan font-family="'Liberation Serif', 'DejaVu Serif', serif" font-weight="normal">μ</tspan>m</text>
<line x1="375" y1="1377.6" x2="445" y2="1377.6" stroke="#008b8b" stroke-width="2.5"/>
<path d="M410.0,1389.3 L420.5,1371.2 L399.5,1371.2 Z" fill="#008b8b"/>
<text x="451.6" y="1387.7" textLength="314.8" lengthAdjust="spacing" font-family="'Liberation Sans', 'DejaVu Sans', sans-serif" font-weight="bold" font-size="29.3" fill="#000">Channel width= 50 <tspan font-family="'Liberation Serif', 'DejaVu Serif', serif" font-weight="normal">μ</tspan>m</text>
</g>
<!-- panel (d) -->
<g>
<rect x="1260.8" y="880.7" width="727.2" height="535.0" fill="none" stroke="#000" stroke-width="2.5"/>
<g stroke="#000" stroke-width="2.2">
<line x1="1260.8" y1="1339.4" x2="1271.6" y2="1339.4"/>
<line x1="1260.8" y1="1186.5" x2="1271.6" y2="1186.5"/>
<line x1="1260.8" y1="1033.6" x2="1271.6" y2="1033.6"/>
<line x1="1260.8" y1="1263.0" x2="1266.3999999999999" y2="1263.0"/>
<line x1="1260.8" y1="1110.0" x2="1266.3999999999999" y2="1110.0"/>
<line x1="1260.8" y1="957.2" x2="1266.3999999999999" y2="957.2"/>
<line x1="1332.7" y1="1415.7" x2="1332.7" y2="1404.5"/>
<line x1="1478.3" y1="1415.7" x2="1478.3" y2="1404.5"/>
<line x1="1623.9" y1="1415.7" x2="1623.9" y2="1404.5"/>
<line x1="1769.5" y1="1415.7" x2="1769.5" y2="1404.5"/>
<line x1="1915.1" y1="1415.7" x2="1915.1" y2="1404.5"/>
<line x1="1405.5" y1="1415.7" x2="1405.5" y2="1409.9"/>
<line x1="1551.1" y1="1415.7" x2="1551.1" y2="1409.9"/>
<line x1="1696.7" y1="1415.7" x2="1696.7" y2="1409.9"/>
<line x1="1842.3" y1="1415.7" x2="1842.3" y2="1409.9"/>
</g>
<g font-family="'Liberation Sans', 'DejaVu Sans', sans-serif" font-weight="bold" font-size="36.2" fill="#000">
<text x="1247.9" y="1349.4" text-anchor="end">300</text>
<text x="1247.9" y="1196.5" text-anchor="end">400</text>
<text x="1247.9" y="1043.6" text-anchor="end">500</text>
<text x="1247.9" y="890.7" text-anchor="end">600</text>
<text x="1332.7" y="1455.5" text-anchor="middle">10</text>
<text x="1478.3" y="1455.5" text-anchor="middle">20</text>
<text x="1623.9" y="1455.5" text-anchor="middle">30</text>
<text x="1769.5" y="1455.5" text-anchor="middle">40</text>
<text x="1915.1" y="1455.5" text-anchor="middle">50</text>
</g>
<text x="1624.5" y="1508.3" text-anchor="middle" font-family="'Liberation Sans', 'DejaVu Sans', sans-serif" font-weight="bold" font-size="36" fill="#000">Channel width (<tspan font-family="'Liberation Serif', 'DejaVu Serif', serif" font-weight="normal">μ</tspan>m)</text>
<text transform="translate(1101.7,1305) rotate(-90)" textLength="310.5" lengthAdjust="spacingAndGlyphs" font-family="'Liberation Sans', 'DejaVu Sans', sans-serif" font-weight="bold" font-size="36.6" fill="#000">Bending stress of</text>
<text transform="translate(1147.9,1395.3) rotate(-90)" textLength="500" lengthAdjust="spacingAndGlyphs" font-family="'Liberation Sans', 'DejaVu Sans', sans-serif" font-weight="bold" font-size="36.6" fill="#000">middle channel region (MPa)</text>
<line x1="1308.3" y1="974.8" x2="1328.0" y2="1019.0" stroke="#000" stroke-width="2.1"/>
<line x1="1340.4" y1="1038.0" x2="1470.6" y2="1183.0" stroke="#000" stroke-width="2.1"/>
<line x1="1488.9" y1="1196.0" x2="1904.5" y2="1369.7" stroke="#000" stroke-width="2.1"/>
<rect x="1296.2" y="956.9" width="14.8" height="14.8" fill="#000"/>
<rect x="1325.3" y="1022.1" width="14.8" height="14.8" fill="#000"/>
<rect x="1470.9" y="1184.1" width="14.8" height="14.8" fill="#000"/>
<rect x="1907.7" y="1366.7" width="14.8" height="14.8" fill="#000"/>
</g>
<!-- panel labels -->
<text x="3.6" y="49" font-family="'Liberation Serif', 'DejaVu Serif', serif" font-weight="bold" font-size="52" fill="#000">(a)</text>
<text x="1002.2" y="49" font-family="'Liberation Serif', 'DejaVu Serif', serif" font-weight="bold" font-size="52" fill="#000">(b)</text>
<text x="3.2" y="921" font-family="'Liberation Serif', 'DejaVu Serif', serif" font-weight="bold" font-size="52" fill="#000">(c)</text>
<text x="1002.2" y="921" font-family="'Liberation Serif', 'DejaVu Serif', serif" font-weight="bold" font-size="52" fill="#000">(d)</text>
</svg>
</body>
</html>
